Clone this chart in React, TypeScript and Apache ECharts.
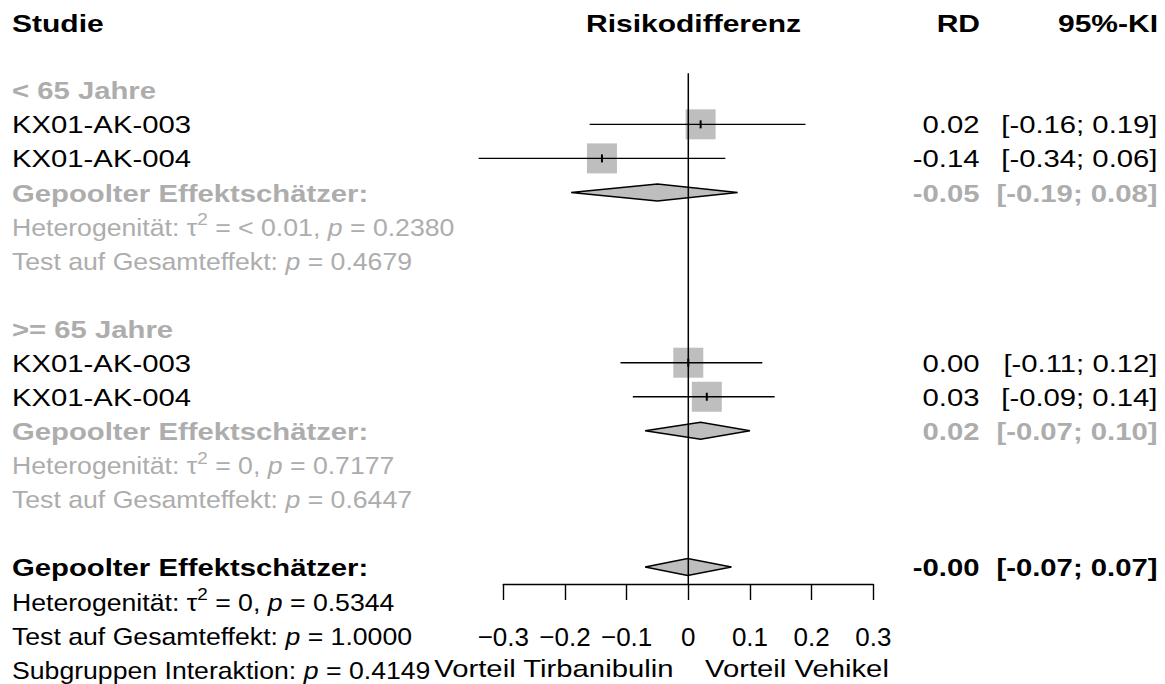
import React, { useEffect, useRef } from "react";
import * as echarts from "echarts";

// ---------------------------------------------------------------------------
// Forest plot: risk difference by age subgroup
// ---------------------------------------------------------------------------

const WIDTH = 1165;
const HEIGHT = 684;

// Subgroups and studies
const subgroupLabels = ["< 65 Jahre", ">= 65 Jahre"];
const studyLabels = ["KX01-AK-003", "KX01-AK-004"];

// < 65 Jahre
const rdYoung = [0.02, -0.14];
const loYoung = [-0.16, -0.34];
const hiYoung = [0.19, 0.06];

// >= 65 Jahre
const rdOld = [0.0, 0.03];
const loOld = [-0.11, -0.09];
const hiOld = [0.12, 0.14];

// Pooled estimates per subgroup
const pooledRd = [-0.05, 0.02];
const pooledLo = [-0.19, -0.07];
const pooledHi = [0.08, 0.1];

// Overall pooled estimate
const overallRd = -0.001;
const overallLo = -0.07;
const overallHi = 0.07;

// Heterogeneity / test statistics
const hetTau2 = ["< 0.01", "0"];
const hetP = ["0.2380", "0.7177"];
const testP = ["0.4679", "0.6447"];
const overallTau2 = "0";
const overallHetP = "0.5344";
const overallTestP = "1.0000";
const interactionP = "0.4149";

// Axis
const xMin = -0.3;
const xMax = 0.3;
const xStep = 0.1;

// Row layout (row index of each block)
const blockStartRows = [2, 9];
const overallRow = 16;
const axisRow = 16.5;
const refLineTopRow = 1.5;

// ---------------------------------------------------------------------------
const TOP = 22.2;
const ROW_H = 34.05;
const PLOT_LEFT = 503.3;
const PLOT_RIGHT = 873.3;
const rowY = (r: number) => TOP + r * ROW_H;

const FONT = '"Liberation Sans", Arial, Helvetica, sans-serif';
const BLACK = "#000000";
const GRAY = "#ADADAD";
const BOX_FILL = "#BEBEBE";

const X_LEFT = 12;
const X_RD = 979.5;
const X_CI = 1157.5;

const FS = 24;
const S_HEAD = 1.25;
const S_BOLD = 1.22;
const S_LABEL = 1.22;
const S_STAT = 1.11;

const fmt2 = (v: number) => v.toFixed(2);
const ciText = (lo: number, hi: number) => `[${fmt2(lo)}; ${fmt2(hi)}]`;

type Align = "left" | "center" | "right";

function plainText(
  text: string,
  x: number,
  row: number,
  align: Align,
  opts: { bold?: boolean; color?: string; scale?: number; dy?: number }
) {
  return {
    type: "text",
    x,
    y: rowY(row) + (opts.dy ?? 1),
    scaleX: opts.scale ?? S_LABEL,
    silent: true,
    style: {
      text,
      fill: opts.color ?? BLACK,
      fontSize: FS,
      fontFamily: FONT,
      fontWeight: opts.bold ? "bold" : "normal",
      align,
      verticalAlign: "middle",
    },
  };
}

function statText(rich: string, row: number, color: string) {
  return {
    type: "text",
    x: X_LEFT,
    y: rowY(row) + 1,
    scaleX: S_STAT,
    silent: true,
    style: {
      text: rich,
      fill: color,
      fontSize: FS,
      fontFamily: FONT,
      align: "left",
      verticalAlign: "middle",
      rich: {
        n: { fontSize: FS, fontFamily: FONT, fill: color },
        i: { fontSize: FS, fontFamily: FONT, fontStyle: "italic", fill: color },
        s: { fontSize: 17, fontFamily: FONT, fill: color, padding: [0, 0, 16, 0] },
      },
    },
  };
}

const hetRich = (tau: string, p: string) =>
  `{n|Heterogenität: τ}{s|2}{n| = ${tau}, }{i|p}{n| = ${p}}`;
const testRich = (p: string) => `{n|Test auf Gesamteffekt: }{i|p}{n| = ${p}}`;
const interactionRich = (p: string) => `{n|Subgruppen Interaktion: }{i|p}{n| = ${p}}`;

function buildGraphics() {
  const g: any[] = [];
  // header
  g.push(plainText("Studie", X_LEFT, 0, "left", { bold: true, scale: S_HEAD }));
  g.push(plainText("Risikodifferenz", 693.5, 0, "center", { bold: true, scale: S_HEAD }));
  g.push(plainText("RD", X_RD + 0.5, 0, "right", { bold: true, scale: S_HEAD }));
  g.push(plainText("95%-KI", X_CI + 0.5, 0, "right", { bold: true, scale: S_HEAD }));

  const blocks = [
    { rd: rdYoung, lo: loYoung, hi: hiYoung },
    { rd: rdOld, lo: loOld, hi: hiOld },
  ];
  blocks.forEach((b, k) => {
    const s = blockStartRows[k];
    g.push(plainText(subgroupLabels[k], X_LEFT, s, "left", { bold: true, color: GRAY, scale: S_BOLD }));
    studyLabels.forEach((name, j) => {
      const r = s + 1 + j;
      g.push(plainText(name, X_LEFT, r, "left", {}));
      g.push(plainText(fmt2(b.rd[j]), X_RD, r, "right", {}));
      g.push(plainText(ciText(b.lo[j], b.hi[j]), X_CI, r, "right", {}));
    });
    const pr = s + 3;
    g.push(plainText("Gepoolter Effektschätzer:", X_LEFT, pr, "left", { bold: true, color: GRAY, scale: S_BOLD }));
    g.push(plainText(fmt2(pooledRd[k]), X_RD, pr, "right", { bold: true, color: GRAY, scale: S_BOLD }));
    g.push(plainText(ciText(pooledLo[k], pooledHi[k]), X_CI, pr, "right", { bold: true, color: GRAY, scale: S_BOLD }));
    g.push(statText(hetRich(hetTau2[k], hetP[k]), s + 4, GRAY));
    g.push(statText(testRich(testP[k]), s + 5, GRAY));
  });

  g.push(plainText("Gepoolter Effektschätzer:", X_LEFT, overallRow, "left", { bold: true, scale: S_BOLD }));
  g.push(plainText(fmt2(overallRd), X_RD, overallRow, "right", { bold: true, scale: S_BOLD }));
  g.push(plainText(ciText(overallLo, overallHi), X_CI, overallRow, "right", { bold: true, scale: S_BOLD }));
  g.push(statText(hetRich(overallTau2, overallHetP), overallRow + 1, BLACK));
  g.push(statText(testRich(overallTestP), overallRow + 2, BLACK));
  g.push(statText(interactionRich(interactionP), overallRow + 3, BLACK));

  // direction labels under the axis
  g.push(plainText("Vorteil Tirbanibulin", 673.5, overallRow + 3, "right", { scale: S_LABEL, dy: 0 }));
  g.push(plainText("Vorteil Vehikel", 705, overallRow + 3, "left", { scale: S_LABEL, dy: 0 }));
  return g;
}

// study rows: [lo, hi, rd, row]
function studyRows() {
  const rows: number[][] = [];
  [
    { rd: rdYoung, lo: loYoung, hi: hiYoung },
    { rd: rdOld, lo: loOld, hi: hiOld },
  ].forEach((b, k) => {
    b.rd.forEach((v, j) => rows.push([b.lo[j], b.hi[j], v, blockStartRows[k] + 1 + j]));
  });
  return rows;
}

function diamondRows() {
  const rows: number[][] = pooledRd.map((v, k) => [pooledLo[k], pooledHi[k], v, blockStartRows[k] + 3]);
  rows.push([overallLo, overallHi, overallRd, overallRow]);
  return rows;
}

const tickLabel = (v: number) => {
  if (Math.abs(v) < 1e-9) return "0";
  return (v < 0 ? "\u2212" : "") + Math.abs(v).toFixed(1);
};

export default function App() {
  const ref = useRef<HTMLDivElement>(null);

  useEffect(() => {
    if (!ref.current) return;
    const chart = echarts.init(ref.current, undefined, { renderer: "svg" });
    const studies = studyRows();
    const diamonds = diamondRows();

    chart.setOption({
      animation: false,
      backgroundColor: "#ffffff",
      grid: {
        left: PLOT_LEFT,
        right: WIDTH - PLOT_RIGHT,
        top: TOP,
        bottom: HEIGHT - rowY(axisRow),
        containLabel: false,
      },
      xAxis: {
        type: "value",
        min: xMin,
        max: xMax,
        interval: xStep,
        axisLine: { show: true, onZero: false, lineStyle: { color: BLACK, width: 1.4 } },
        axisTick: { show: true, inside: false, length: 16, lineStyle: { color: BLACK, width: 1.4 } },
        axisLabel: {
          show: true,
          margin: 40,
          color: BLACK,
          fontSize: 26,
          fontFamily: FONT,
          formatter: tickLabel,
        },
        splitLine: { show: false },
      },
      yAxis: {
        type: "value",
        inverse: true,
        min: 0,
        max: axisRow,
        show: false,
        splitLine: { show: false },
      },
      graphic: buildGraphics(),
      series: [
        {
          // study weight boxes
          type: "scatter",
          z: 1,
          symbol: "rect",
          symbolSize: 30,
          itemStyle: { color: BOX_FILL, opacity: 1 },
          silent: true,
          data: studies.map((r) => [r[2], r[3]]),
        },
        {
          // confidence intervals with point-estimate tick
          type: "custom",
          z: 3,
          silent: true,
          encode: { x: [0, 1, 2], y: 3 },
          data: studies,
          renderItem: (_p: any, api: any) => {
            const row = api.value(3);
            const a = api.coord([api.value(0), row]);
            const b = api.coord([api.value(1), row]);
            const c = api.coord([api.value(2), row]);
            return {
              type: "group",
              children: [
                {
                  type: "line",
                  shape: { x1: a[0], y1: a[1], x2: b[0], y2: b[1] },
                  style: { stroke: BLACK, lineWidth: 1.4 },
                },
                {
                  type: "line",
                  shape: { x1: c[0], y1: c[1] - 4, x2: c[0], y2: c[1] + 4 },
                  style: { stroke: BLACK, lineWidth: 2 },
                },
              ],
            };
          },
        },
        {
          // pooled estimates as diamonds
          type: "custom",
          z: 3,
          silent: true,
          encode: { x: [0, 1, 2], y: 3 },
          data: diamonds,
          renderItem: (_p: any, api: any) => {
            const row = api.value(3);
            const a = api.coord([api.value(0), row]);
            const b = api.coord([api.value(1), row]);
            const c = api.coord([api.value(2), row]);
            const h = 8.5;
            return {
              type: "polygon",
              shape: {
                points: [
                  [a[0], a[1]],
                  [c[0], c[1] - h],
                  [b[0], b[1]],
                  [c[0], c[1] + h],
                ],
              },
              style: { fill: BOX_FILL, stroke: BLACK, lineWidth: 1.4 },
            };
          },
        },
        {
          // line of no effect
          type: "custom",
          z: 5,
          silent: true,
          encode: { x: 0, y: [1, 2] },
          data: [[0, refLineTopRow, axisRow]],
          renderItem: (_p: any, api: any) => {
            const a = api.coord([api.value(0), api.value(1)]);
            const b = api.coord([api.value(0), api.value(2)]);
            return {
              type: "line",
              shape: { x1: a[0], y1: a[1], x2: b[0], y2: b[1] },
              style: { stroke: BLACK, lineWidth: 1.5 },
            };
          },
        },
      ],
    });

    return () => chart.dispose();
  }, []);

  return (
    <div
      ref={ref}
      style={{ position: "absolute", left: 0, top: 0, width: WIDTH, height: HEIGHT, background: "#fff" }}
    />
  );
}
